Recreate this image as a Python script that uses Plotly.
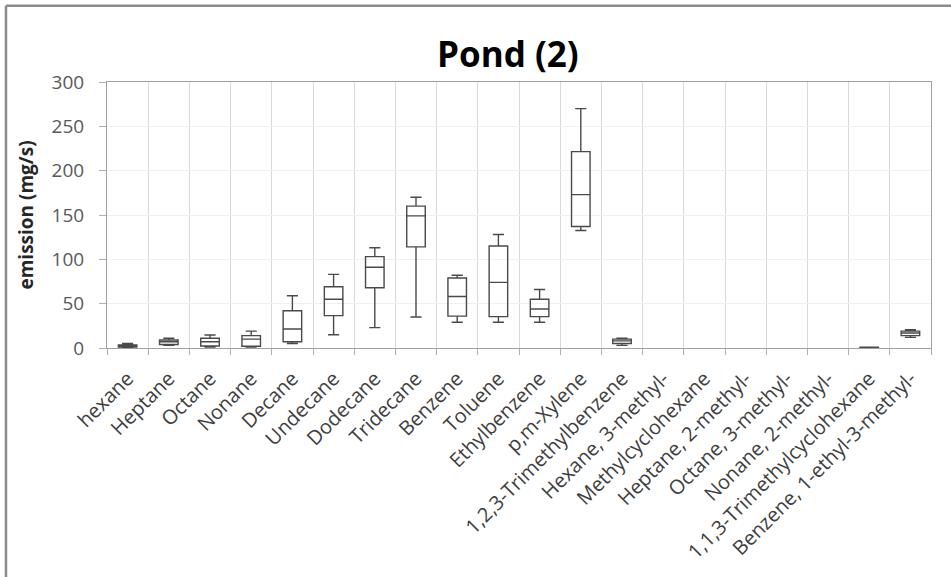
import plotly.graph_objects as go

# Compounds on the x axis (all 20, some without measurements)
categories = [
    "hexane", "Heptane", "Octane", "Nonane", "Decane", "Undecane", "Dodecane",
    "Tridecane", "Benzene", "Toluene", "Ethylbenzene", "p,m-Xylene",
    "1,2,3-Trimethylbenzene", "Hexane, 3-methyl-", "Methylcyclohexane",
    "Heptane, 2-methyl-", "Octane, 3-methyl-", "Nonane, 2-methyl-",
    "1,1,3-Trimethylcyclohexane", "Benzene, 1-ethyl-3-methyl-",
]

# Box statistics (mg/s) for compounds with measurements
box_cats = [
    "hexane", "Heptane", "Octane", "Nonane", "Decane", "Undecane", "Dodecane",
    "Tridecane", "Benzene", "Toluene", "Ethylbenzene", "p,m-Xylene",
    "1,2,3-Trimethylbenzene", "1,1,3-Trimethylcyclohexane",
    "Benzene, 1-ethyl-3-methyl-",
]
minimum = [0.5, 3, 1, 1, 5, 15, 23, 35, 29, 29, 29, 132.5, 3, 0.2, 12]
q1 = [1, 4, 2.2, 2, 7, 36.5, 68, 114, 36, 35.4, 35.4, 137, 5, 0.3, 14]
median = [2, 7, 7, 10, 21.5, 55, 91, 149, 58, 74, 44, 173, 8, 0.5, 17]
q3 = [3.5, 9, 11, 14, 42, 69, 103, 160, 79, 115, 55, 221.5, 10, 0.8, 19]
maximum = [5, 11, 14.7, 19, 59, 83, 113, 170, 82, 128, 66, 270, 11, 1, 20.5]

y_ticks = [0, 50, 100, 150, 200, 250, 300]

fig = go.Figure()

# keep every compound on the category axis, including those with no data
fig.add_trace(go.Scatter(
    x=categories, y=[0] * len(categories), mode="markers",
    marker=dict(opacity=0), hoverinfo="skip", showlegend=False,
))

fig.add_trace(go.Box(
    x=box_cats, q1=q1, median=median, q3=q3,
    lowerfence=minimum, upperfence=maximum,
    boxpoints=False, width=0.45, whiskerwidth=0.6,
    fillcolor="rgba(255,255,255,0)",
    line=dict(color="#4a4a4a", width=1.4),
    showlegend=False,
))

fig.update_layout(
    width=951, height=577,
    paper_bgcolor="white", plot_bgcolor="white",
    margin=dict(l=107, r=20, t=82, b=229),
    font=dict(family="Open Sans, sans-serif", color="#404040"),
    title=dict(
        text="<b>Pond (2)</b>", xref="container", x=0.534, xanchor="center",
        yref="container", y=1 - 55 / 577, yanchor="middle",
        font=dict(size=35, color="#000000"),
    ),
    xaxis=dict(
        type="category", categoryorder="array", categoryarray=categories,
        range=[-0.5, len(categories) - 0.5],
        tickson="boundaries", ticks="outside", ticklen=6, tickcolor="#b0b0b0",
        showgrid=True, gridcolor="#d9d9d9", gridwidth=1,
        showline=True, linecolor="#a0a0a0", linewidth=1, mirror=True,
        tickangle=-45, ticklabelstandoff=10,
        tickfont=dict(size=20, color="#404040"),
    ),
    yaxis=dict(
        range=[0, 300], tickvals=y_ticks,
        ticks="outside", ticklen=7, tickcolor="#b0b0b0",
        showgrid=True, gridcolor="#f0f0f0", gridwidth=1,
        showline=True, linecolor="#a0a0a0", linewidth=1, mirror=True,
        zeroline=False, ticklabelstandoff=11,
        tickfont=dict(size=19, color="#595959"),
        title=dict(text="<b>emission (mg/s)</b>", standoff=12,
                   font=dict(size=19, color="#262626")),
    ),
)

# outer chart frame (left and top edges)
fig.add_shape(type="line", xref="paper", yref="paper",
              x0=-0.1226, x1=-0.1226, y0=-0.87, y1=1.287,
              line=dict(color="#8c8c8c", width=2.5))
fig.add_shape(type="line", xref="paper", yref="paper",
              x0=-0.1226, x1=1.03, y0=1.287, y1=1.287,
              line=dict(color="#8c8c8c", width=2.5))

fig.write_html("out.html")
